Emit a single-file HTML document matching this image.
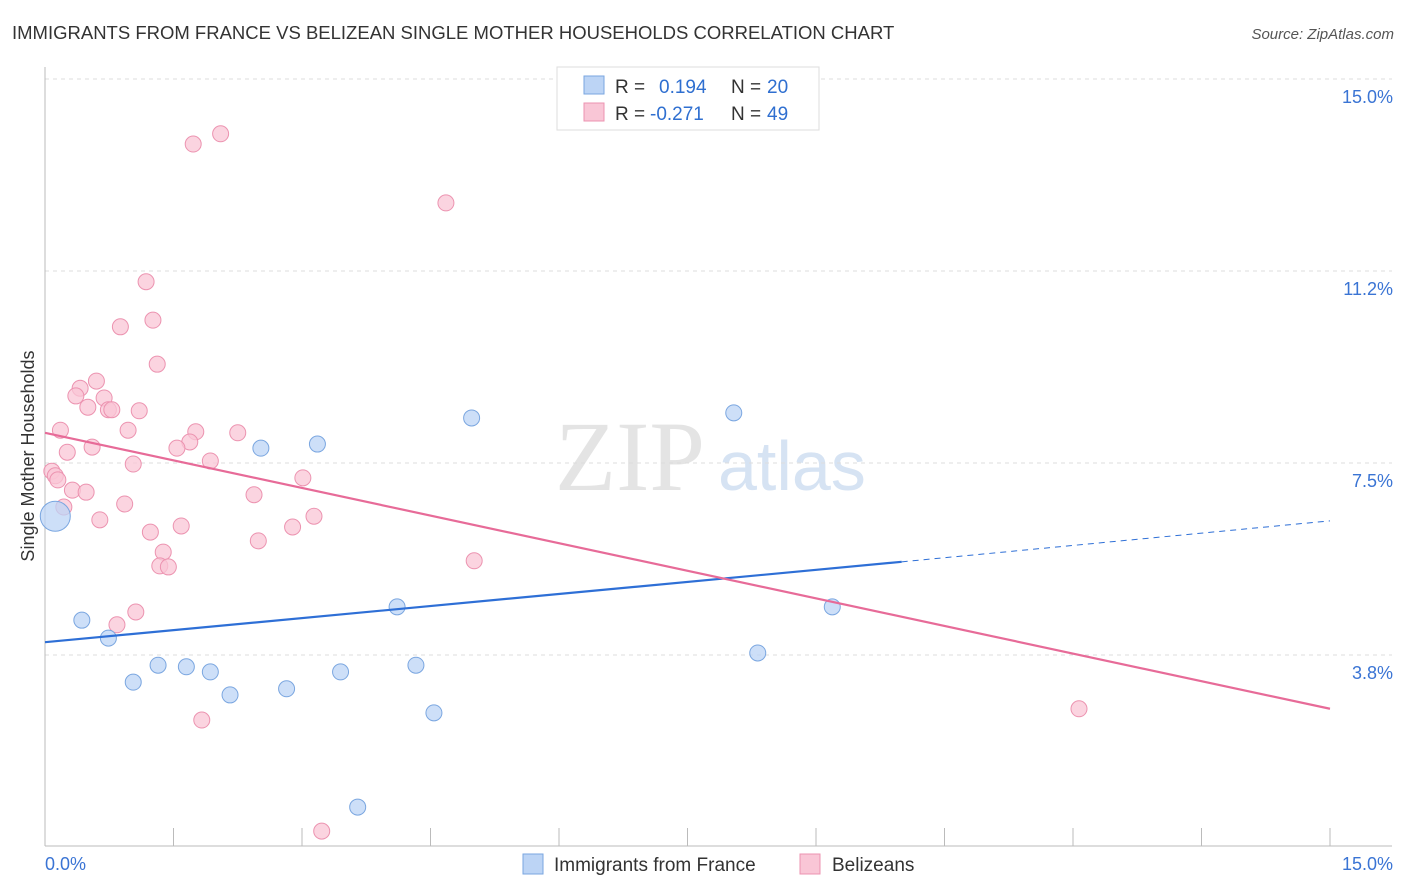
<!DOCTYPE html>
<html><head><meta charset="utf-8"><style>
body{margin:0;background:#fff;font-family:"Liberation Sans",sans-serif}
#wrap{position:relative;width:1406px;height:892px;overflow:hidden}
</style></head><body>
<div id="wrap">
<svg id="svg" width="1406" height="892" xmlns="http://www.w3.org/2000/svg">
<text x="12" y="39" font-size="18.5" fill="#333">IMMIGRANTS FROM FRANCE VS BELIZEAN SINGLE MOTHER HOUSEHOLDS CORRELATION CHART</text>
<text x="1394" y="39" font-size="15" fill="#555" font-style="italic" text-anchor="end">Source: ZipAtlas.com</text>
<text x="555" y="490" font-size="100" fill="#e4e4e4" font-family="Liberation Serif">ZIP</text>
<text x="718" y="490" font-size="70" fill="#d6e3f3">atlas</text>
<text transform="translate(34,456) rotate(-90)" font-size="18" fill="#333" text-anchor="middle">Single Mother Households</text>
<g id="grid"></g><g id="marks"></g>
<rect x="557" y="67" width="262" height="63" fill="#fff" stroke="#ddd"/>
<rect x="584" y="76" width="20" height="18" fill="#bcd4f5" stroke="#7aa6e0"/>
<rect x="584" y="103" width="20" height="18" fill="#f9c6d6" stroke="#ec93b0"/>
<text x="615" y="93" font-size="19" fill="#333">R = <tspan x="659" fill="#2f6fd0">0.194</tspan><tspan x="731" fill="#333">N = </tspan><tspan x="767" fill="#2f6fd0">20</tspan></text>
<text x="615" y="120" font-size="19" fill="#333">R = <tspan x="650" fill="#2f6fd0">-0.271</tspan><tspan x="731" fill="#333">N = </tspan><tspan x="767" fill="#2f6fd0">49</tspan></text>
<rect x="523" y="854" width="20" height="20" fill="#bcd4f5" stroke="#7aa6e0"/>
<text x="554" y="871" font-size="19" fill="#333">Immigrants from France</text>
<rect x="800" y="854" width="20" height="20" fill="#f9c6d6" stroke="#ec93b0"/>
<text x="832" y="871" font-size="19" fill="#333">Belizeans</text>
</svg></div>
<script>
const yTicks=[15.0,11.25,7.5,3.75];
const yTickLabels=["15.0%","11.2%","7.5%","3.8%"];
const xTickLabels=["0.0%","15.0%"];
const blueX=[0.12,0.43,0.74,1.03,1.32,1.65,1.93,2.16,2.52,2.82,3.18,3.45,3.65,4.11,4.33,4.54,4.98,8.04,8.32,9.19];
const blueY=[6.46,4.43,4.08,3.22,3.55,3.52,3.42,2.97,7.79,3.09,7.87,3.42,0.78,4.69,3.55,2.62,8.38,8.48,3.79,4.69];
const pinkX=[1.73,2.05,4.68,1.18,1.26,0.88,1.31,0.6,0.41,0.36,0.69,0.5,0.74,0.78,1.1,0.18,0.97,1.76,2.25,1.69,1.54,0.55,0.26,1.93,1.03,0.08,0.12,0.15,0.32,0.48,3.01,2.44,0.93,0.22,3.14,0.64,1.59,1.23,2.89,2.49,1.38,1.34,1.44,5.01,1.06,0.84,1.83,12.07,3.23];
const pinkY=[13.73,13.93,12.58,11.04,10.29,10.16,9.43,9.10,8.96,8.81,8.77,8.59,8.54,8.54,8.52,8.14,8.14,8.11,8.09,7.91,7.79,7.81,7.71,7.54,7.48,7.34,7.25,7.17,6.97,6.93,7.21,6.88,6.70,6.64,6.46,6.39,6.27,6.15,6.25,5.98,5.76,5.49,5.47,5.59,4.59,4.34,2.48,2.70,0.31];
const blueTrend=[[0,4.0],[10.0,5.57],[15.0,6.37]];
const pinkTrend=[[0,8.09],[15.0,2.70]];
const X0=45,X1=1330,Y0=79,YPER=51.2;
const xs=v=>X0+v*(X1-X0)/15;
const ys=v=>Y0+(15-v)*YPER;
const NS="http://www.w3.org/2000/svg";
const grid=document.getElementById('grid'),marks=document.getElementById('marks');
function mk(tag,at,parent){const e=document.createElementNS(NS,tag);for(const k in at)e.setAttribute(k,at[k]);parent.appendChild(e);return e;}
yTicks.forEach((t,i)=>{
 const l=mk('line',{x1:45,x2:1392,y1:ys(t),y2:ys(t),stroke:'#ddd','stroke-dasharray':'4,4'},grid);
 
 
 const tx=mk('text',{x:1393,y:ys(t)+24,'font-size':18,fill:'#3a74d4','text-anchor':'end'},grid);
 tx.textContent=yTickLabels[i];
 
 
});
let ax=mk('line',{x1:45,x2:45,y1:67,y2:846,stroke:'#bbb'},grid);


ax=mk('line',{x1:45,x2:1392,y1:846,y2:846,stroke:'#bbb'},grid);


for(let i=1;i<=10;i++){const x=X0+i*(X1-X0)/10;
 const t=mk('line',{x1:x,x2:x,y1:828,y2:846,stroke:'#bbb'},grid);
 
 }
[[45,'start',0],[1393,'end',1]].forEach(([x,a,i])=>{
 const t=mk('text',{x:x,y:870,'font-size':18,fill:'#3a74d4','text-anchor':a},grid);
 t.textContent=xTickLabels[i];
 
 });
pinkX.forEach((v,i)=>{
 const c=mk('circle',{cx:xs(v),cy:ys(pinkY[i]),r:8,fill:'#f9c6d6','fill-opacity':0.75,stroke:'#ec93b0','stroke-width':1},marks);
 
 });
blueX.forEach((v,i)=>{
 const c=mk('circle',{cx:xs(v),cy:ys(blueY[i]),r:i===0?15:8,fill:'#bcd4f5','fill-opacity':0.75,stroke:'#7aa6e0','stroke-width':1},marks);
 
 });
let l=mk('line',{x1:xs(blueTrend[0][0]),y1:ys(blueTrend[0][1]),x2:xs(blueTrend[1][0]),y2:ys(blueTrend[1][1]),stroke:'#2e6fd6','stroke-width':2.2},marks);


l=mk('line',{x1:xs(blueTrend[1][0]),y1:ys(blueTrend[1][1]),x2:xs(blueTrend[2][0]),y2:ys(blueTrend[2][1]),stroke:'#2e6fd6','stroke-width':1,'stroke-dasharray':'6,5'},marks);


l=mk('line',{x1:xs(pinkTrend[0][0]),y1:ys(pinkTrend[0][1]),x2:xs(pinkTrend[1][0]),y2:ys(pinkTrend[1][1]),stroke:'#e76b98','stroke-width':2.2},marks);


</script>
</body></html>
